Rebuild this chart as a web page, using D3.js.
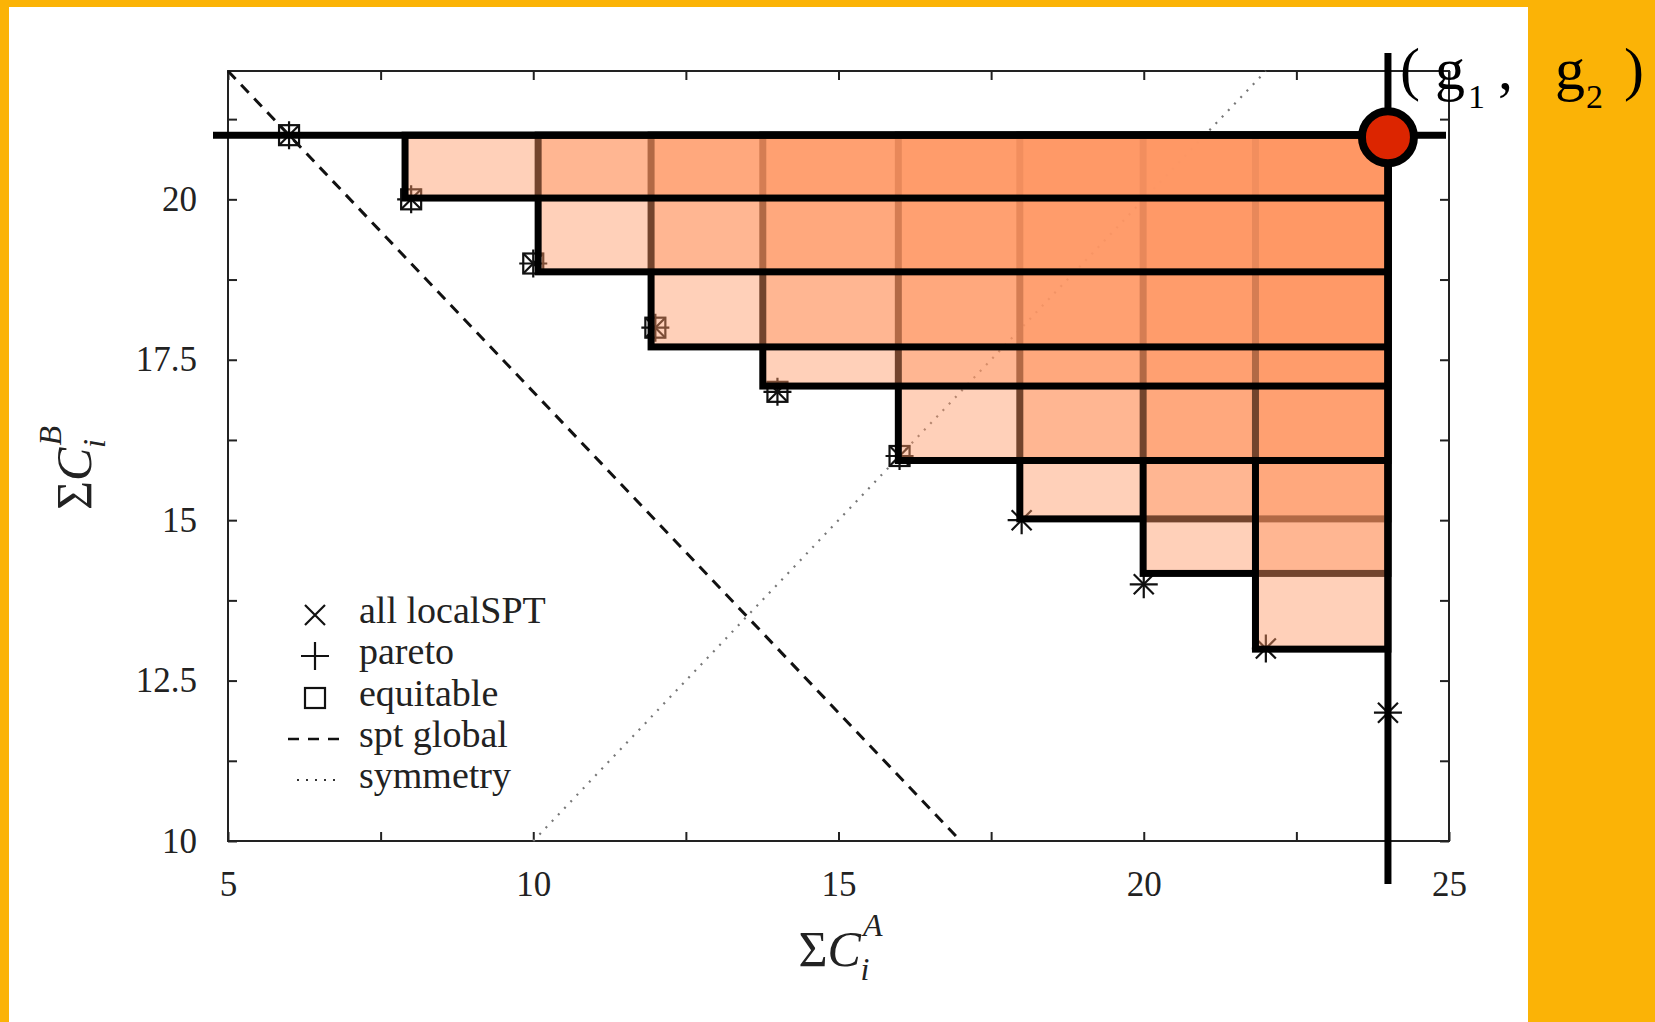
<!DOCTYPE html>
<html>
<head>
<meta charset="utf-8">
<script src="https://cdn.jsdelivr.net/npm/d3@7"></script>
<style>
  body { margin: 0; background: #fbb306; }
  svg { display: block; }
</style>
</head>
<body>
<svg id="chart" width="1655" height="1022"></svg>
<script>
// sum of costs (org A, org B) of the local SPT solutions
var localA = [6, 8, 10, 12, 14, 16, 18, 20, 22, 24];
var localB = [21, 20, 19, 18, 17, 16, 15, 14, 13, 12];
var paretoA = [6, 8, 10, 12, 14, 16, 18, 20, 22, 24];
var paretoB = [21, 20, 19, 18, 17, 16, 15, 14, 13, 12];
var equitableA = [6, 8, 10, 12, 14, 16];
var equitableB = [21, 20, 19, 18, 17, 16];
var sptGlobalA = [5, 17];
var sptGlobalB = [22, 10];
var symmetryA = [10, 22];
var symmetryB = [10, 22];
// the point (g1, g2)
var nadir = [24, 21];
// hand placed boxes on the slide, lower left corners, in stacking order
var boxA = [17.97, 19.99, 21.83, 15.98, 13.76, 11.93, 10.08, 7.9];
var boxB = [15.02, 14.17, 12.99, 15.93, 17.09, 17.7, 18.87, 20.02];
var xTickLabels = [5, 10, 15, 20, 25];
var yTickLabels = [10, 12.5, 15, 17.5, 20];
var legendNames = ['all localSPT', 'pareto', 'equitable', 'spt global', 'symmetry'];

var serif = '"Liberation Serif", "DejaVu Serif", serif';
var svg = d3.select('#chart');

// note: "top" is taken by window.top, so plot* names
var plotLeft = 228, plotRight = 1449, plotTop = 71, plotBottom = 841;
var x = d3.scaleLinear().domain([5, 25]).range([plotLeft, plotRight]);
var y = d3.scaleLinear().domain([10, 22]).range([plotBottom, plotTop]);

// white sheet on the yellow slide
svg.append('rect')
    .attr('x', 9)
    .attr('y', 7)
    .attr('width', 1519)
    .attr('height', 1030)
    .attr('fill', '#ffffff');

// axes, ticks pointing inward
var xTickVals = d3.range(5, 25.01, 2.5);
var yTickVals = d3.range(10, 21.9, 1.25);
var fmt = function (list) {
    return function (d) { return list.indexOf(d) >= 0 ? d : ''; };
};

var axes = [
    svg.append('g').attr('transform', 'translate(0,' + plotBottom + ')')
        .call(d3.axisBottom(x).tickValues(xTickVals).tickSize(-9).tickSizeOuter(0)
            .tickPadding(30).tickFormat(fmt(xTickLabels))),
    svg.append('g').attr('transform', 'translate(0,' + plotTop + ')')
        .call(d3.axisTop(x).tickValues(xTickVals).tickSize(-9).tickSizeOuter(0).tickFormat('')),
    svg.append('g').attr('transform', 'translate(' + plotLeft + ',0)')
        .call(d3.axisLeft(y).tickValues(yTickVals).tickSize(-9).tickSizeOuter(0)
            .tickPadding(31).tickFormat(fmt(yTickLabels))),
    svg.append('g').attr('transform', 'translate(' + plotRight + ',0)')
        .call(d3.axisRight(y).tickValues(yTickVals).tickSize(-9).tickSizeOuter(0).tickFormat(''))
];
axes.forEach(function (g) {
    g.select('.domain').remove();
    g.selectAll('line').attr('stroke', '#222').attr('stroke-width', 2);
    g.selectAll('text')
        .attr('font-family', serif)
        .attr('font-size', 35)
        .attr('fill', '#222');
});

svg.append('rect')
    .attr('x', plotLeft)
    .attr('y', plotTop)
    .attr('width', plotRight - plotLeft)
    .attr('height', plotBottom - plotTop)
    .attr('fill', 'none')
    .attr('stroke', '#222')
    .attr('stroke-width', 2);

// reference lines
var line = d3.line()
    .x(function (d) { return x(d[0]); })
    .y(function (d) { return y(d[1]); });

svg.append('path')
    .datum(d3.zip(symmetryA, symmetryB))
    .attr('d', line)
    .attr('fill', 'none')
    .attr('stroke', '#777')
    .attr('stroke-width', 2.2)
    .attr('stroke-dasharray', '2,7');

svg.append('path')
    .datum(d3.zip(sptGlobalA, sptGlobalB))
    .attr('d', line)
    .attr('fill', 'none')
    .attr('stroke', '#111')
    .attr('stroke-width', 3)
    .attr('stroke-dasharray', '11,8');

// marker shapes
function cross(g, cx, cy, r) {
    g.append('path')
        .attr('d', 'M' + (cx - r) + ',' + (cy - r) + 'L' + (cx + r) + ',' + (cy + r) +
                   'M' + (cx - r) + ',' + (cy + r) + 'L' + (cx + r) + ',' + (cy - r))
        .attr('stroke', '#111').attr('stroke-width', 2.2).attr('fill', 'none');
}
function plus(g, cx, cy, r) {
    g.append('path')
        .attr('d', 'M' + (cx - r) + ',' + cy + 'L' + (cx + r) + ',' + cy +
                   'M' + cx + ',' + (cy - r) + 'L' + cx + ',' + (cy + r))
        .attr('stroke', '#111').attr('stroke-width', 2.2).attr('fill', 'none');
}
function square(g, cx, cy, r) {
    g.append('rect')
        .attr('x', cx - r).attr('y', cy - r)
        .attr('width', 2 * r).attr('height', 2 * r)
        .attr('stroke', '#111').attr('stroke-width', 2.2).attr('fill', 'none');
}

var marks = svg.append('g');
localA.forEach(function (a, i) { cross(marks, x(a), y(localB[i]), 10); });
paretoA.forEach(function (a, i) { plus(marks, x(a), y(paretoB[i]), 14); });
equitableA.forEach(function (a, i) { square(marks, x(a), y(equitableB[i]), 10); });

// boxes dominated by each pareto point, up to (g1, g2)
var boxes = svg.append('g');
boxA.forEach(function (a, i) {
    boxes.append('rect')
        .attr('x', x(a))
        .attr('y', y(nadir[1]))
        .attr('width', x(nadir[0]) - x(a))
        .attr('height', y(boxB[i]) - y(nadir[1]))
        .attr('fill', 'rgb(255,151,99)')
        .attr('fill-opacity', 0.45)
        .attr('stroke', '#000')
        .attr('stroke-width', 7);
});

// cross hair through (g1, g2)
svg.append('line')
    .attr('x1', x(5) - 15)
    .attr('x2', x(25) - 3)
    .attr('y1', y(nadir[1]))
    .attr('y2', y(nadir[1]))
    .attr('stroke', '#000')
    .attr('stroke-width', 7);
svg.append('line')
    .attr('x1', x(nadir[0]))
    .attr('x2', x(nadir[0]))
    .attr('y1', y(22) - 18)
    .attr('y2', y(10) + 43)
    .attr('stroke', '#000')
    .attr('stroke-width', 7);
svg.append('circle')
    .attr('cx', x(nadir[0]))
    .attr('cy', y(nadir[1]) + 2)
    .attr('r', 26)
    .attr('fill', '#dc2500')
    .attr('stroke', '#000')
    .attr('stroke-width', 8);

// ( g1 , g2 )
var g12 = svg.append('text')
    .attr('x', x(nadir[0]) + 12)
    .attr('y', 89)
    .attr('font-family', serif)
    .attr('font-size', 60)
    .attr('fill', '#000')
    .attr('xml:space', 'preserve');
g12.append('tspan').text('( g');
g12.append('tspan').attr('font-size', 34).attr('dy', 19).attr('dx', 3).text('1');
g12.append('tspan').attr('dy', -19).attr('dx', -2).text(' ,');
g12.append('tspan').attr('dx', 42).text('g');
g12.append('tspan').attr('font-size', 34).attr('dy', 19).attr('dx', 1).text('2');
g12.append('tspan').attr('dy', -19).attr('dx', 6).text(' )');

// legend
var legend = svg.append('g');
var legendY = [615, 656, 698, 739, 780];
legendNames.forEach(function (name, i) {
    legend.append('text')
        .attr('x', 359)
        .attr('y', legendY[i] + 8)
        .attr('font-family', serif)
        .attr('font-size', 38)
        .attr('fill', '#222')
        .text(name);
});
cross(legend, 315, legendY[0], 10);
plus(legend, 315, legendY[1], 14);
square(legend, 315, legendY[2], 10);
legend.append('line')
    .attr('x1', 288).attr('x2', 342)
    .attr('y1', legendY[3]).attr('y2', legendY[3])
    .attr('stroke', '#111').attr('stroke-width', 2.5)
    .attr('stroke-dasharray', '11,9');
legend.append('line')
    .attr('x1', 297).attr('x2', 340)
    .attr('y1', legendY[4]).attr('y2', legendY[4])
    .attr('stroke', '#333').attr('stroke-width', 2.2)
    .attr('stroke-dasharray', '2,7');

// axis titles
function sumLabel(t, sup) {
    t.append('tspan').attr('font-style', 'normal').text('\u03a3');
    t.append('tspan').attr('font-style', 'italic').text('C');
    t.append('tspan').attr('font-style', 'italic').attr('font-size', 32).attr('dy', -30).attr('dx', 2).text(sup);
    t.append('tspan').attr('font-style', 'italic').attr('font-size', 32).attr('dy', 44).attr('dx', -22).text('i');
}
var xTitle = svg.append('text')
    .attr('x', (plotLeft + plotRight) / 2 + 2)
    .attr('y', 966)
    .attr('text-anchor', 'middle')
    .attr('font-family', serif)
    .attr('font-size', 50)
    .attr('fill', '#222');
sumLabel(xTitle, 'A');

var yTitle = svg.append('text')
    .attr('transform', 'translate(91,' + ((plotTop + plotBottom) / 2 + 12) + ') rotate(-90)')
    .attr('text-anchor', 'middle')
    .attr('font-family', serif)
    .attr('font-size', 50)
    .attr('fill', '#222');
sumLabel(yTitle, 'B');
</script>
</body>
</html>
